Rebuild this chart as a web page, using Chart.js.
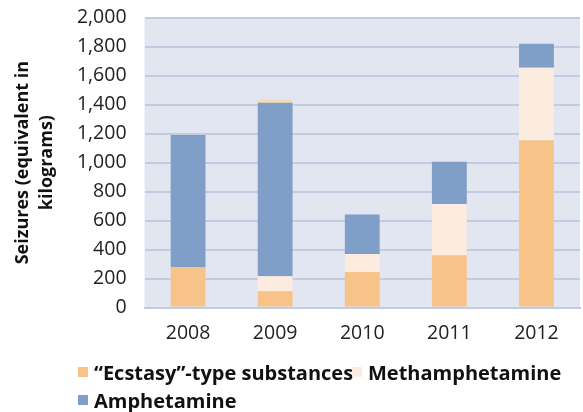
<!DOCTYPE html>
<html lang="en">
<head>
  <meta charset="UTF-8">
  <title>Seizures by year</title>
  <script src="https://cdn.jsdelivr.net/npm/chart.js"></script>
  <style>
    html, body { margin: 0; padding: 0; background: #fff; font-family: 'Open Sans', 'Noto Sans', sans-serif; }
    .wrap { position: relative; width: 583px; height: 412px; overflow: hidden; }
    #chart { position: absolute; left: 0; top: -12px; }
    .leg { position: absolute; display: flex; align-items: center; height: 28px; font-weight: bold; font-size: 20px; color: #111; white-space: nowrap; }
    .leg i { display: inline-block; width: 10px; height: 10px; margin-right: 6px; }
  </style>
</head>
<body>
  <div class="wrap">
    <canvas id="chart" width="583" height="371"></canvas>
    <div id="legend"></div>
  </div>
  <script>
    // data
    const years = ['2008', '2009', '2010', '2011', '2012'];
    const ecstasy = [280, 112, 246, 361, 1154];
    const meth = [0, 104, 124, 354, 501];
    const amph = [910, 1198, 273, 292, 166];
    const other = [0, 23, 0, 0, 0]; // thin unlabelled sliver on top of 2009

    const font = "'Open Sans', 'Noto Sans', sans-serif";

    const plotBg = {
      id: 'plotBg',
      beforeDraw(chart) {
        const a = chart.chartArea, c = chart.ctx;
        c.save();
        c.fillStyle = '#e1e6f1';
        c.fillRect(a.left, a.top, a.right - a.left, a.bottom - a.top);
        c.restore();
      }
    };

    const chart = new Chart(document.getElementById('chart'), {
      type: 'bar',
      data: {
        labels: years,
        datasets: [
          { label: '\u201cEcstasy\u201d-type substances', data: ecstasy, backgroundColor: '#f8c389' },
          { label: 'Methamphetamine', data: meth, backgroundColor: '#fcece0' },
          { label: 'Amphetamine', data: amph, backgroundColor: '#7f9ec8' },
          { label: '', data: other, backgroundColor: '#f8dcb0' }
        ]
      },
      options: {
        responsive: false,
        animation: false,
        categoryPercentage: 0.4,
        barPercentage: 1,
        layout: { padding: { top: 6, right: 3, left: 11, bottom: 8 } },
        plugins: { legend: { display: false }, tooltip: { enabled: false } },
        scales: {
          x: {
            stacked: true,
            grid: { display: false },
            border: { color: '#c3cbe0', width: 2 },
            ticks: { color: '#222', padding: 6, font: { family: font, size: 19.5 } }
          },
          y: {
            stacked: true,
            min: 0, max: 2000,
            ticks: { stepSize: 200, color: '#222', padding: 18, font: { family: font, size: 19.5 } },
            grid: { color: '#c3cbe0', lineWidth: 2, drawTicks: false },
            border: { display: false },
            title: {
              display: true,
              text: ['Seizures (equivalent in', 'kilograms)'],
              color: '#111',
              padding: { top: 0, bottom: 0 },
              font: { family: font, size: 18, weight: 'bold', lineHeight: 1.33 }
            }
          }
        }
      },
      plugins: [plotBg]
    });

    // html legend, positioned like the reference
    const legPos = [[78, 358], [352, 358], [78, 386]];
    const legend = document.getElementById('legend');
    chart.data.datasets.slice(0, 3).forEach((ds, i) => {
      const d = document.createElement('div');
      d.className = 'leg';
      d.style.left = legPos[i][0] + 'px';
      d.style.top = legPos[i][1] + 'px';
      d.innerHTML = '<i style="background:' + ds.backgroundColor + '"></i>';
      d.appendChild(document.createTextNode(ds.label));
      legend.appendChild(d);
    });
  </script>
</body>
</html>
